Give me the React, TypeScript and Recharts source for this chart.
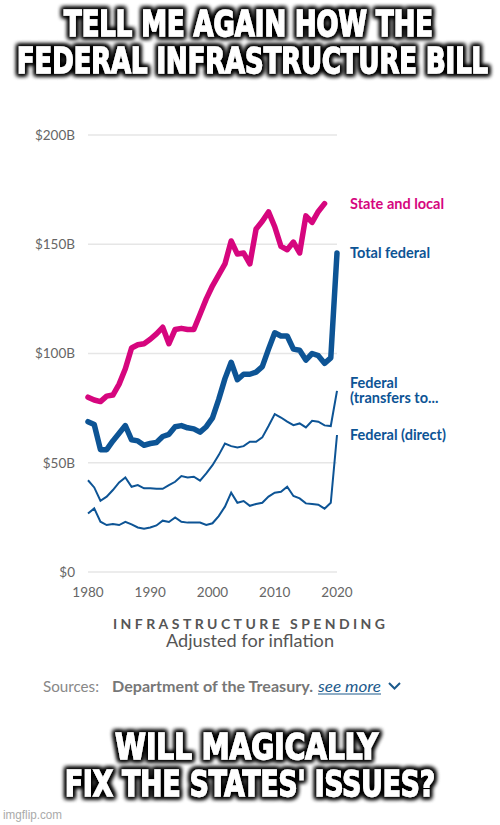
import { LineChart, Line, XAxis, YAxis, CartesianGrid } from "recharts"

// values in billions of dollars, adjusted for inflation
const years = [
  1980, 1981, 1982, 1983, 1984, 1985, 1986, 1987, 1988, 1989,
  1990, 1991, 1992, 1993, 1994, 1995, 1996, 1997, 1998, 1999,
  2000, 2001, 2002, 2003, 2004, 2005, 2006, 2007, 2008, 2009,
  2010, 2011, 2012, 2013, 2014, 2015, 2016, 2017, 2018, 2019, 2020,
]

const stateLocal = [
  80, 78.7, 78, 80.5, 81, 86, 93, 102.5, 104, 104.5,
  106.5, 109, 112, 104.5, 111, 111.5, 111, 111, 118, 125,
  131, 136, 141, 151.5, 145.5, 146, 141, 157, 160.5, 164.8,
  158, 149, 147.5, 151, 146, 163, 160, 165, 168.6, null, null,
]

const totalFederal = [
  68.8, 67.5, 56, 56, 60, 63.5, 67, 60.5, 60, 58,
  58.8, 59.3, 62, 63, 66.5, 67, 66, 65.5, 64, 66.5,
  70.5, 79, 88.5, 96, 88, 90.5, 90.5, 91.5, 94, 102,
  109.5, 108, 108, 102, 101.5, 97, 100, 99, 95.5, 98, 146,
]

const federalTransfers = [
  42, 38.7, 32.6, 34.5, 37.5, 41, 43.3, 39, 39.8, 38.3,
  38.3, 38.1, 38.1, 39.8, 41.3, 43.9, 43.3, 43.6, 41.8, 45.1,
  48.9, 53.5, 58.8, 57.6, 57, 57.6, 59.6, 59.6, 61.6, 66.8,
  72.3, 70.7, 68.8, 67.2, 68, 66.2, 69.2, 68.8, 67.1, 66.8, 82.9,
]

const federalDirect = [
  26.8, 29.1, 23, 21.5, 22, 21.5, 23, 21.8, 20.4, 19.8,
  20.4, 21.3, 23.5, 22.9, 25, 23, 22.6, 22.6, 22.6, 21.5,
  22.3, 25.6, 29.9, 36.3, 31.7, 32.5, 30.3, 31.1, 31.7, 34.5,
  36.3, 36.7, 39, 34.8, 33.7, 31.4, 31.1, 30.8, 29, 31.7, 62.7,
]

const yTicks = [0, 50, 100, 150, 200]
const xTicks = [1980, 1990, 2000, 2010, 2020]

const data = years.map((year, i) => ({
  year,
  stateLocal: stateLocal[i],
  totalFederal: totalFederal[i],
  federalTransfers: federalTransfers[i],
  federalDirect: federalDirect[i],
}))

const PINK = "#d6067e"
const BLUE = "#0d5495"
const labelFont = "Lato, 'Noto Sans', sans-serif"

const lastIndex = (arr: (number | null)[]) => {
  let idx = 0
  arr.forEach((v, i) => {
    if (v !== null) idx = i
  })
  return idx
}

// series name written next to the last point of its line
const endLabel = (lines: string[], color: string, last: number) => (props: any) => {
  if (props.index !== last) return null
  const lh = 15
  const y0 = props.y - ((lines.length - 1) * lh) / 2
  return (
    <text
      key={`lbl-${lines[0]}`}
      x={350}
      y={y0}
      fill={color}
      fontFamily={labelFont}
      fontWeight={700}
      fontSize={14.5}
    >
      {lines.map((l, i) => (
        <tspan key={i} x={350} dy={i === 0 ? "0.35em" : lh}>
          {l}
        </tspan>
      ))}
    </text>
  )
}

const memeFont = "'Liberation Sans Narrow', 'DejaVu Sans Condensed', 'Liberation Sans', sans-serif"

function MemeLine({ text, x, y, width }: { text: string; x: number; y: number; width: number }) {
  return (
    <text
      x={x}
      y={y}
      textLength={width}
      lengthAdjust="spacingAndGlyphs"
      fill="#fff"
      stroke="#fff"
      strokeWidth={1.3}
      fontFamily={memeFont}
      fontWeight={700}
      fontSize={36}
      filter="url(#halo)"
    >
      {text}
    </text>
  )
}

export default function App() {
  return (
    <div style={{ position: "absolute", top: 0, left: 0, width: 500, height: 825, background: "#fff", overflow: "hidden" }}>
      <div style={{ position: "absolute", top: 0, left: 0 }}>
        <LineChart width={500} height={610} data={data} margin={{ top: 135, right: 163, bottom: 8, left: 0 }}>
          <CartesianGrid horizontal vertical={false} stroke="#e6e6e6" strokeWidth={1.5} />
          <XAxis
            dataKey="year"
            type="number"
            domain={[1980, 2020]}
            ticks={xTicks}
            axisLine={false}
            tickLine={false}
            tickMargin={9}
            height={30}
            tick={{ fill: "#666", fontSize: 13.5, fontFamily: labelFont }}
          />
          <YAxis
            domain={[0, 200]}
            ticks={yTicks}
            width={88}
            axisLine={false}
            tickLine={false}
            tickMargin={7}
            tickFormatter={(v: number) => (v === 0 ? "$0" : `$${v}B`)}
            tick={{ fill: "#666", fontSize: 13.5, fontFamily: labelFont }}
          />
          <Line
            dataKey="federalDirect"
            stroke={BLUE}
            strokeWidth={2}
            dot={false}
            isAnimationActive={false}
            label={endLabel(["Federal (direct)"], BLUE, lastIndex(federalDirect))}
          />
          <Line
            dataKey="federalTransfers"
            stroke={BLUE}
            strokeWidth={2}
            dot={false}
            isAnimationActive={false}
            label={endLabel(["Federal", "(transfers to..."], BLUE, lastIndex(federalTransfers))}
          />
          <Line
            dataKey="totalFederal"
            stroke={BLUE}
            strokeWidth={5.5}
            strokeLinecap="round"
            strokeLinejoin="round"
            dot={false}
            isAnimationActive={false}
            label={endLabel(["Total federal"], BLUE, lastIndex(totalFederal))}
          />
          <Line
            dataKey="stateLocal"
            stroke={PINK}
            strokeWidth={5.5}
            strokeLinecap="round"
            strokeLinejoin="round"
            dot={false}
            connectNulls={false}
            isAnimationActive={false}
            label={endLabel(["State and local"], PINK, lastIndex(stateLocal))}
          />
        </LineChart>
      </div>

      <svg width={500} height={825} style={{ position: "absolute", top: 0, left: 0, pointerEvents: "none" }}>
        <defs>
          <filter id="halo" x="-10%" y="-40%" width="120%" height="180%">
            <feMorphology in="SourceAlpha" operator="dilate" radius={1.5} result="d" />
            <feGaussianBlur in="d" stdDeviation={2.2} result="b" />
            <feFlood floodColor="#000" />
            <feComposite in2="b" operator="in" result="s" />
            <feMerge>
              <feMergeNode in="s" />
              <feMergeNode in="s" />
              <feMergeNode in="SourceGraphic" />
            </feMerge>
          </filter>
        </defs>

        <MemeLine text="TELL ME AGAIN HOW THE" x={64} y={36} width={369} />
        <MemeLine text="FEDERAL INFRASTRUCTURE BILL" x={17} y={73} width={471} />
        <MemeLine text="WILL MAGICALLY" x={115} y={759} width={263} />
        <MemeLine text="FIX THE STATES' ISSUES?" x={65} y={796} width={370} />

        <text x={113} y={629} textLength={272} lengthAdjust="spacing" fill="#555" fontFamily={labelFont} fontWeight={700} fontSize={14}>
          INFRASTRUCTURE SPENDING
        </text>
        <text x={166} y={647} textLength={168} lengthAdjust="spacingAndGlyphs" fill="#555" fontFamily={labelFont} fontSize={16.5}>
          Adjusted for inflation
        </text>

        <text x={43} y={692} textLength={56} lengthAdjust="spacingAndGlyphs" fill="#888" fontFamily={labelFont} fontSize={15}>
          Sources:
        </text>
        <text x={112} y={692} textLength={201} lengthAdjust="spacingAndGlyphs" fill="#777" fontFamily={labelFont} fontWeight={700} fontSize={15}>
          Department of the Treasury.
        </text>
        <text x={318} y={692} textLength={63} lengthAdjust="spacingAndGlyphs" fill="#1c5a8c" fontFamily={labelFont} fontStyle="italic" fontSize={15}>
          see more
        </text>
        <line x1={318} x2={381} y1={694} y2={694} stroke="#1c5a8c" strokeWidth={1} />
        <polyline points="389,683 394.5,688.5 400,683" fill="none" stroke="#1c5a8c" strokeWidth={2} />

        <text x={3} y={819} textLength={59} lengthAdjust="spacingAndGlyphs" fill="#aaa" fontFamily="'Liberation Sans', sans-serif" fontSize={12}>
          imgflip.com
        </text>
      </svg>
    </div>
  )
}
